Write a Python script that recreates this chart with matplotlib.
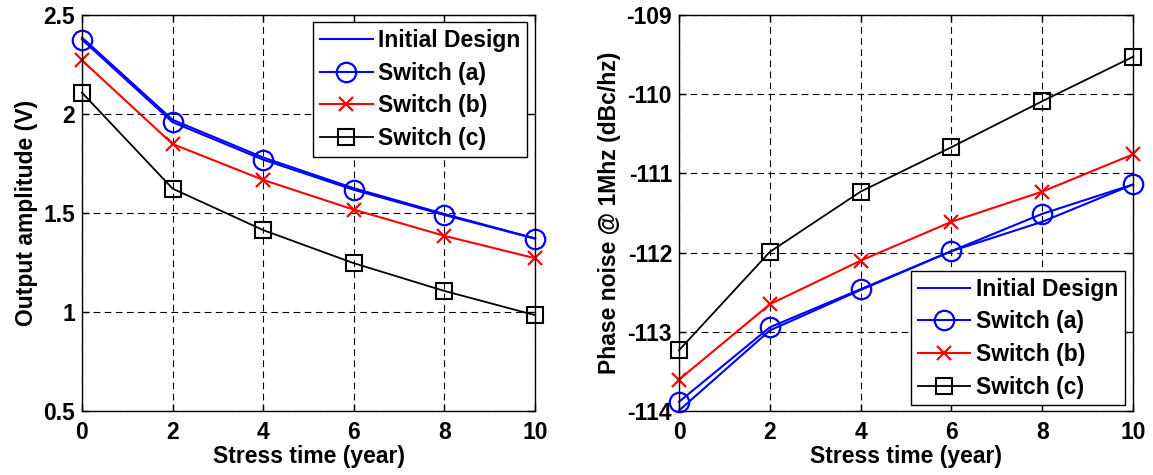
import matplotlib.pyplot as plt

plt.rcParams['font.family'] = ['Liberation Sans', 'DejaVu Sans']
plt.rcParams['font.weight'] = 'bold'
plt.rcParams['axes.labelweight'] = 'bold'
plt.rcParams['axes.unicode_minus'] = False
plt.rcParams['font.size'] = 16.5

# stress time (years)
years = [0, 2, 4, 6, 8, 10]

# output amplitude (V)
amp_initial = [2.385, 1.970, 1.780, 1.625, 1.495, 1.372]
amp_switch_a = [2.375, 1.958, 1.769, 1.617, 1.490, 1.371]
amp_switch_b = [2.270, 1.848, 1.667, 1.517, 1.385, 1.272]
amp_switch_c = [2.107, 1.623, 1.414, 1.247, 1.107, 0.985]

# phase noise @ 1 MHz (dBc/Hz)
pn_initial = [-113.99, -112.98, -112.47, -111.98, -111.61, -111.14]
pn_switch_a = [-113.88, -112.94, -112.46, -111.98, -111.51, -111.14]
pn_switch_b = [-113.60, -112.65, -112.10, -111.61, -111.23, -110.76]
pn_switch_c = [-113.23, -111.99, -111.23, -110.67, -110.09, -109.53]

labels = ['Initial Design', 'Switch (a)', 'Switch (b)', 'Switch (c)']


def draw(ax, series):
    ini, a, b, c = series
    ax.plot(years, ini, color='blue', lw=1.5, label=labels[0], clip_on=False)
    ax.plot(years, a, color='blue', lw=1.5, marker='o', ms=14,
            mfc='none', mew=1.6, label=labels[1], clip_on=False)
    ax.plot(years, b, color='red', lw=1.5, marker='x', ms=10,
            mew=1.6, label=labels[2], clip_on=False)
    ax.plot(years, c, color='black', lw=1.3, marker='s', ms=12,
            mfc='none', mew=1.5, label=labels[3], clip_on=False)
    ax.set_xlim(0, 10)
    ax.set_xticks(years)
    ax.grid(True, color='black', linestyle=(0, (6, 4)), lw=0.8)
    ax.tick_params(direction='in', top=True, right=True, length=5, width=1)
    ax.tick_params(axis='x', pad=7)
    ax.tick_params(axis='y', pad=5)
    for s in ax.spines.values():
        s.set_linewidth(1.0)
    ax.set_xlabel('Stress time (year)', labelpad=1)


fig = plt.figure(figsize=(11.53, 4.75), dpi=100)

ax1 = fig.add_axes([0.0711, 0.134, 0.3930, 0.835])
draw(ax1, [amp_initial, amp_switch_a, amp_switch_b, amp_switch_c])
ax1.set_ylim(0.5, 2.5)
ax1.set_yticks([0.5, 1, 1.5, 2, 2.5])
ax1.set_yticklabels(['0.5', '1', '1.5', '2', '2.5'])
ax1.set_ylabel('Output amplitude (V)', labelpad=4)
leg1 = ax1.legend(loc='upper right', bbox_to_anchor=(0.983, 0.981),
                  fancybox=False, edgecolor='black', framealpha=1,
                  handlelength=2.3, handletextpad=0.25, labelspacing=0.42,
                  borderpad=0.3, borderaxespad=0)
leg1.set_zorder(5)

ax2 = fig.add_axes([0.5889, 0.134, 0.3938, 0.835])
draw(ax2, [pn_initial, pn_switch_a, pn_switch_b, pn_switch_c])
ax2.set_ylim(-114, -109)
ax2.set_yticks([-114, -113, -112, -111, -110, -109])
ax2.set_ylabel('Phase noise @ 1Mhz (dBc/hz)', labelpad=4)
leg2 = ax2.legend(loc='lower right', bbox_to_anchor=(0.983, 0.015),
                  fancybox=False, edgecolor='black', framealpha=1,
                  handlelength=2.3, handletextpad=0.25, labelspacing=0.42,
                  borderpad=0.3, borderaxespad=0)
leg2.set_zorder(5)

fig.savefig('out.png', dpi=100)
